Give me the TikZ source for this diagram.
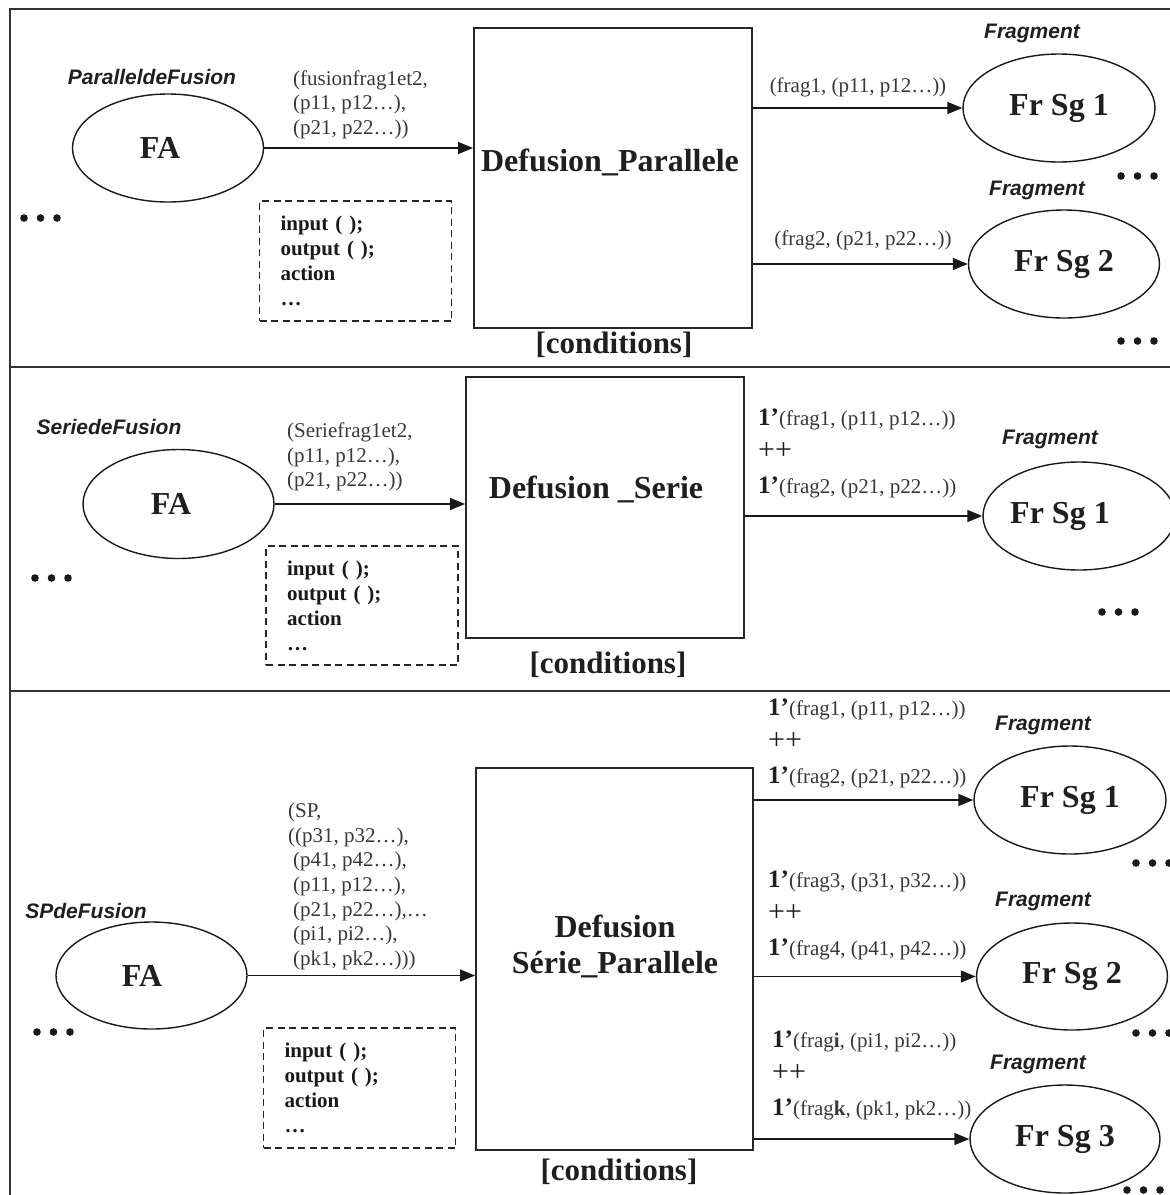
\documentclass[tikz,border=0pt]{standalone}
\usepackage{fontspec}
\setmainfont{Liberation Serif}
\newfontfamily\tagfont{Liberation Sans}
\usetikzlibrary{shapes.geometric,arrows.meta}
% multiplicity prefix and multiset union used in the arc inscriptions
\newcommand\mult{{\fontsize{25}{34}\selectfont\bfseries\color{black!88}1’}}
\newcommand\plusplus{{\fontsize{30}{34}\selectfont\color{black!88}++}}
\begin{document}
\begin{tikzpicture}[x=1pt,y=-1pt,
  frame/.style={line width=1.7pt,draw=black!80},
  proc/.style={draw=black!85,line width=1.9pt,rectangle,inner sep=0pt},
  place/.style={draw=black!90,ellipse,line width=1.4pt,inner sep=0pt,
    font=\bfseries\fontsize{32}{36}\selectfont,text=black!88},
  decl/.style={draw=black!85,dash pattern=on 7pt off 4.5pt,line width=1.4pt,
    text width=150pt,inner xsep=21pt,inner ysep=0pt,align=left,
    font=\bfseries\fontsize{21}{25}\selectfont,text=black!90},
  flow/.style={line width=1.5pt,draw=black!90,-{Triangle[length=15pt,width=12pt]}},
  small/.style={font=\fontsize{21}{24.5}\selectfont,text=black!78,inner sep=0pt,align=left},
  tagtxt/.style={font=\tagfont\bfseries\itshape\fontsize{21}{25}\selectfont,text=black!88,inner sep=0pt},
  boxtitle/.style={font=\bfseries\fontsize{32}{36}\selectfont,text=black!88,inner sep=0pt,align=center},
  cond/.style={font=\bfseries\fontsize{31}{36}\selectfont,text=black!88,inner sep=0pt},
  bind/.style={font=\fontsize{21}{34}\selectfont,text=black!78,inner sep=0pt,align=left},
  dotrow/.pic={\foreach \k in {0,1,2} \fill[black!90] (\k*16.5,0) circle[radius=3.8pt];}
]
\useasboundingbox (0,0) rectangle (1170,1195);
\clip (0,0) rectangle (1170,1195);

% outer frame and panel separators
\draw[frame] (1170,9) -- (10,9) -- (10,1195);
\draw[frame] (10,367) -- (1170,367);
\draw[frame] (10,691) -- (1170,691);

% ---------------- parallel defusion ----------------
\node[tagtxt] (k1) at (152,77) {ParalleldeFusion};
\node[place,minimum width=191pt,minimum height=108pt] (fa1) at (168,148) {\hspace*{-16pt}FA};
\node[proc,minimum width=278pt,minimum height=300pt] (dp1) at (613,178) {};
\node[boxtitle] (dp1t) at (610,162) {Defusion\_Parallele};
\node[cond] (c1) at (614,345) {[conditions]};
\node[small,anchor=west] (l1) at (293,104.5) {(fusionfrag1et2,\\(p11, p12…),\\(p21, p22…))};
\draw[flow] (fa1.east) -- (fa1.east -| dp1.west);
\node[decl,minimum height=120pt] (d1) at (355.5,261) {input ( );\\output ( );\\action\\…};

\node[place,minimum width=192pt,minimum height=108pt] (f11) at (1059,108) {Fr Sg 1};
\node[place,minimum width=191pt,minimum height=108pt] (f12) at (1064,264) {Fr Sg 2};
\draw[flow] (f11.west -| dp1.east) -- (f11.west);
\draw[flow] (f12.west -| dp1.east) -- (f12.west);
\node[small] (o11) at (858,87) {(frag1, (p11, p12…))};
\node[small] (o12) at (863,240) {(frag2, (p21, p22…))};
\node[tagtxt] (g11) at (1032,33) {Fragment};
\node[tagtxt] (g12) at (1037,190) {Fragment};
\pic at (24,218) {dotrow};
\pic at (1121,176) {dotrow};
\pic at (1121,341) {dotrow};

% ---------------- serial defusion ----------------
\node[tagtxt] (k2) at (109,427) {SeriedeFusion};
\node[place,minimum width=191pt,minimum height=109pt] (fa2) at (178.5,504) {\hspace*{-15pt}FA};
\node[proc,minimum width=278pt,minimum height=261pt] (dp2) at (605,507.5) {};
\node[boxtitle] (dp2t) at (596,489) {Defusion \_Serie};
\node[cond] (c2) at (608,665) {[conditions]};
\node[small,anchor=west] (l2) at (287,457) {(Seriefrag1et2,\\(p11, p12…),\\(p21, p22…))};
\draw[flow] (fa2.east) -- (fa2.east -| dp2.west);
\node[decl,minimum height=119pt] (d2) at (362,605.5) {input ( );\\output ( );\\action\\…};

\node[place,minimum width=192pt,minimum height=108pt] (f21) at (1079,516) {\hspace*{-38pt}Fr Sg 1};
\draw[flow] (f21.west -| dp2.east) -- (f21.west);
\node[bind,anchor=west] (o21) at (758,453.5) {\mult(frag1, (p11, p12…))\\\plusplus\\\mult(frag2, (p21, p22…))};
\node[tagtxt] (g21) at (1050,439) {Fragment};
\pic at (35,578) {dotrow};
\pic at (1102,612) {dotrow};

% ---------------- serial-parallel defusion ----------------
\node[tagtxt] (k3) at (86,911) {SPdeFusion};
\node[place,minimum width=191pt,minimum height=107pt] (fa3) at (151.5,975.5) {\hspace*{-19pt}FA};
\node[proc,minimum width=277pt,minimum height=382pt] (dp3) at (614.5,959) {};
\node[boxtitle] (dp3t) at (615,946) {Defusion\\Série\_Parallele};
\node[cond] (c3) at (619,1172) {[conditions]};
\node[small,anchor=west,font=\fontsize{21}{24.7}\selectfont] (l3) at (288,886.5)
  {(SP,\\((p31, p32…),\\\hspace*{5pt}(p41, p42…),\\\hspace*{5pt}(p11, p12…),\\\hspace*{5pt}(p21, p22…),…\\\hspace*{5pt}(pi1, pi2…),\\\hspace*{5pt}(pk1, pk2…)))};
\draw[flow] (fa3.east) -- (fa3.east -| dp3.west);
\node[decl,minimum height=120pt] (d3) at (359.5,1088) {input ( );\\output ( );\\action\\…};

\node[place,minimum width=192pt,minimum height=108pt] (f31) at (1070,800) {Fr Sg 1};
\node[place,minimum width=191pt,minimum height=107pt] (f32) at (1072,976.5) {Fr Sg 2};
\node[place,minimum width=190pt,minimum height=108pt] (f33) at (1065,1139) {Fr Sg 3};
\draw[flow] (f31.west -| dp3.east) -- (f31.west);
\draw[flow] (f32.west -| dp3.east) -- (f32.west);
\draw[flow] (f33.west -| dp3.east) -- (f33.west);
\node[bind,anchor=west] (o31) at (768,743.5) {\mult(frag1, (p11, p12…))\\\plusplus\\\mult(frag2, (p21, p22…))};
\node[bind,anchor=west] (o32) at (768,915.5) {\mult(frag3, (p31, p32…))\\\plusplus\\\mult(frag4, (p41, p42…))};
\node[bind,anchor=west] (o33) at (772,1075.5) {\mult(frag\textbf{i}, (pi1, pi2…))\\\plusplus\\\mult(frag\textbf{k}, (pk1, pk2…))};
\node[tagtxt] (g31) at (1043,725) {Fragment};
\node[tagtxt] (g32) at (1043,901) {Fragment};
\node[tagtxt] (g33) at (1038,1064) {Fragment};
\pic at (37,1032) {dotrow};
\pic at (1136,863) {dotrow};
\pic at (1136,1033) {dotrow};
\pic at (1127,1190) {dotrow};
\end{tikzpicture}
\end{document}
